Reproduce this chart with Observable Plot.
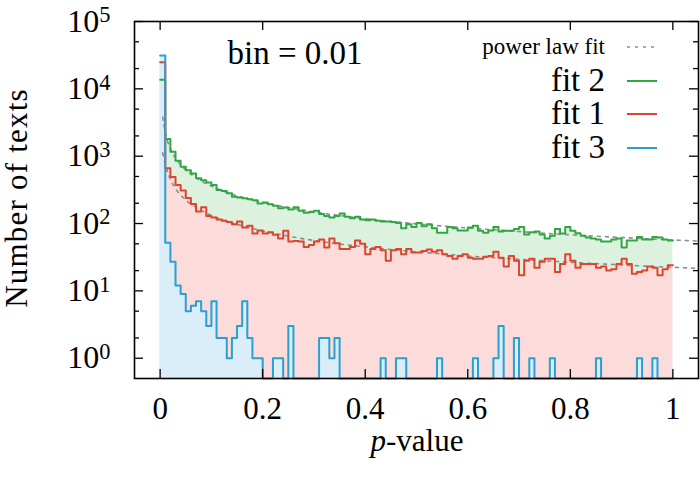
<!DOCTYPE html>
<html>
<head>
<meta charset="utf-8">
<script src="https://cdn.jsdelivr.net/npm/d3@7"></script>
<script src="https://cdn.jsdelivr.net/npm/@observablehq/plot@0.6"></script>
<style>
  html, body { margin: 0; padding: 0; background: white; }
  #chart { width: 700px; height: 478px; }
</style>
</head>
<body>
<div id="chart"></div>
<script>
// ---------------- data ----------------
const binWidth = 0.01;
const seriesNames = ["fit 2", "fit 1", "fit 3"];
const legendLabels = ["power law fit", "fit 2", "fit 1", "fit 3"];
const xTicks = [0, 0.2, 0.4, 0.6, 0.8, 1];
const yMajorTicks = [1, 10, 100, 1000, 10000, 100000];
const yMinorTicks = [2, 5, 20, 50, 200, 500, 2000, 5000, 20000, 50000];
const xDomain = [-0.05, 1.05];
const yDomain = [0.5, 100000];

// counts per bin (p-value bins of width 0.01, starting at 0)
const fit2Counts = [13700,1795,1160,855,695,621,553,472,441,406,
375,316,305,282,249,243,238,230,222,198,
205,194,183,169,173,162,174,155,145,148,
155,138,129,123,129,141,126,120,126,115,
112,115,110,107,107,105,102,85,98,89,
102,91,98,85,73,73,89,85,79,79,
87,93,78,73,79,89,76,78,78,83,
89,69,74,76,69,60,66,83,71,89,
78,72,66,62,60,58,54,54,58,60,
44,56,56,63,58,58,63,62,58,56];

const fit1Counts = [24800,661,490,372,309,240,195,151,174,129,
123,115,110,105,98,107,87,93,71,79,
71,74,68,60,78,54,55,54,45,48,
54,58,44,60,51,42,42,45,56,50,
35,42,45,40,28,40,42,35,42,37,
37,39,41,38,40,35,33,30,33,35,
31,30,30,32,33,38,31,23,33,28,
17,28,30,22,27,30,30,19,25,35,
28,22,25,25,25,22,23,20,21,25,
30,25,18,19,20,23,22,17,21,24];

const fit3Counts = [31200,52,27,12,9,5,6,7,5,3,
7,2,2,1,2,3,7,2,1,1,
0,0,1,1,0,3,0,0,0,0,
0,2,2,1,2,0,0,0,0,0,
0,0,0,1,0,0,1,1,0,0,
0,0,0,0,1,0,0,0,0,0,
0,1,0,0,0,1,3,0,0,2,
0,0,1,0,0,0,1,0,0,0,
0,0,0,0,0,1,0,0,0,0,
0,0,0,1,0,0,1,0,0,0];

// power law fit curves, read at sample p-values
const fitP     = [0.005, 0.01, 0.02, 0.03, 0.05, 0.07, 0.1, 0.15, 0.2, 0.3, 0.4, 0.5, 0.6, 0.7, 0.8, 0.9, 1.0, 1.05];
const fit2Law  = [3800, 2260, 1300, 940, 625, 478, 359, 259, 206, 149, 118, 99, 86, 76, 68, 62, 57, 55];
const fit1Law  = [1120, 760, 457, 331, 224, 174, 132, 97, 78, 56, 45, 38, 33, 29.5, 26.6, 24.3, 22.4, 21.6];

// ---------------- styling ----------------
const FONT = "'Liberation Serif', 'Times New Roman', serif";
const COLORS = {
  "fit 2": {line: "#2fa844", fill: "#dcf2df"},
  "fit 1": {line: "#e2432d", fill: "#fbdcda"},
  "fit 3": {line: "#2a9fd3", fill: "#d9eef9"}
};
const FIT_COLOR = "#8c8c8c";
const W = 700, H = 478;
const M = {top: 21, right: 2, bottom: 100, left: 134};
const frameW = W - M.left - M.right, frameH = H - M.top - M.bottom;
const MAJOR = 9, MINOR = 5;

// build step tables (bin left edges + closing edge)
function steps(counts) {
  const pts = counts.map((v, i) => ({x: i * binWidth, v}));
  pts.push({x: counts.length * binWidth, v: counts[counts.length - 1]});
  return pts;
}
const floorV = d => Math.max(d.v, yDomain[0]);
const series = {
  "fit 2": steps(fit2Counts),
  "fit 1": steps(fit1Counts),
  "fit 3": steps(fit3Counts)
};
const fitLines = [
  fitP.map((p, i) => ({x: p, v: fit2Law[i]})),
  fitP.map((p, i) => ({x: p, v: fit1Law[i]}))
];

function annotations(index, scales, values, dims) {
  const right = dims.width - dims.marginRight;
  const g = d3.create("svg:g").attr("font-family", FONT).attr("fill", "black");
  g.append("text")
    .attr("x", dims.marginLeft + 161).attr("y", dims.marginTop + 43)
    .attr("text-anchor", "middle").attr("font-size", 33)
    .text("bin = " + binWidth);
  const rowY = [47, 81, 114, 148];
  legendLabels.forEach((lab, i) => {
    const small = i === 0;
    g.append("text")
      .attr("x", right - 93).attr("y", rowY[i] + (small ? 7 : 10))
      .attr("text-anchor", "end").attr("font-size", small ? 23 : 33)
      .text(lab);
    const ln = g.append("line")
      .attr("x1", right - 71).attr("x2", right - 41)
      .attr("y1", rowY[i]).attr("y2", rowY[i])
      .attr("stroke-width", small ? 1.5 : 2);
    if (small) ln.attr("stroke", FIT_COLOR).attr("stroke-dasharray", "3,5");
    else ln.attr("stroke", COLORS[lab].line);
  });
  // axis titles
  g.append("text")
    .attr("transform", `translate(27,${dims.marginTop + 177}) rotate(-90)`)
    .attr("text-anchor", "middle").attr("font-size", 31)
    .attr("letter-spacing", 1.2)
    .text("Number of texts");
  const xt = g.append("text")
    .attr("x", dims.marginLeft + 283).attr("y", dims.height - 27)
    .attr("text-anchor", "middle").attr("font-size", 31);
  xt.append("tspan").attr("font-style", "italic").text("p");
  xt.append("tspan").text("-value");
  return g.node();
}

const marks = [];
// fills (back to front: fit 2, fit 1, fit 3)
for (const name of seriesNames) {
  marks.push(Plot.areaY(series[name], {
    x: "x", y1: () => yDomain[0], y2: floorV, curve: "step-after",
    fill: COLORS[name].fill
  }));
}
// power law fits
for (const fl of fitLines) {
  marks.push(Plot.line(fl, {x: "x", y: "v", curve: "monotone-x",
    stroke: FIT_COLOR, strokeWidth: 1.6, strokeDasharray: "3,5", clip: true}));
}
// step lines
for (const name of seriesNames) {
  marks.push(Plot.line(series[name], {
    x: "x", y: floorV, curve: "step-after",
    stroke: COLORS[name].line, strokeWidth: 2
  }));
}
// inward ticks on all four sides
marks.push(Plot.ruleX(xTicks, {x: d => d, insetTop: frameH - MAJOR, stroke: "black", strokeWidth: 1.3}));
marks.push(Plot.ruleX(xTicks, {x: d => d, insetBottom: frameH - MAJOR, stroke: "black", strokeWidth: 1.3}));
marks.push(Plot.ruleY(yMajorTicks, {y: d => d, insetRight: frameW - MAJOR, stroke: "black", strokeWidth: 1.3}));
marks.push(Plot.ruleY(yMajorTicks, {y: d => d, insetLeft: frameW - MAJOR, stroke: "black", strokeWidth: 1.3}));
marks.push(Plot.ruleY(yMinorTicks, {y: d => d, insetRight: frameW - MINOR, stroke: "black", strokeWidth: 1.3}));
marks.push(Plot.ruleY(yMinorTicks, {y: d => d, insetLeft: frameW - MINOR, stroke: "black", strokeWidth: 1.3}));
// tick labels
marks.push(Plot.axisX({ticks: xTicks, tickSize: 0, tickPadding: 18, label: null,
  tickFormat: d => String(+d.toFixed(1)), fontSize: 31}));
marks.push(Plot.axisY({ticks: yMajorTicks, tickSize: 0, tickPadding: 24, label: null,
  tickFormat: d => String(Math.round(Math.log10(d))), fontSize: 32}));
marks.push(Plot.frame({stroke: "black", strokeWidth: 1.6}));
marks.push(annotations);

const chart = Plot.plot({
  width: W, height: H,
  marginTop: M.top, marginRight: M.right, marginBottom: M.bottom, marginLeft: M.left,
  x: {domain: xDomain},
  y: {type: "log", domain: yDomain},
  style: {fontFamily: FONT, fontSize: "32px", background: "white", color: "black"},
  marks
});
document.getElementById("chart").appendChild(chart);

// render y tick labels as 10^n with a superscript exponent
d3.select(chart).selectAll('g[aria-label="y-axis tick label"] text').each(function() {
  const t = d3.select(this);
  const e = t.text();
  t.text("10");
  t.append("tspan").attr("dy", "-0.42em").attr("font-size", "0.7em").text(e);
});
</script>
</body>
</html>
